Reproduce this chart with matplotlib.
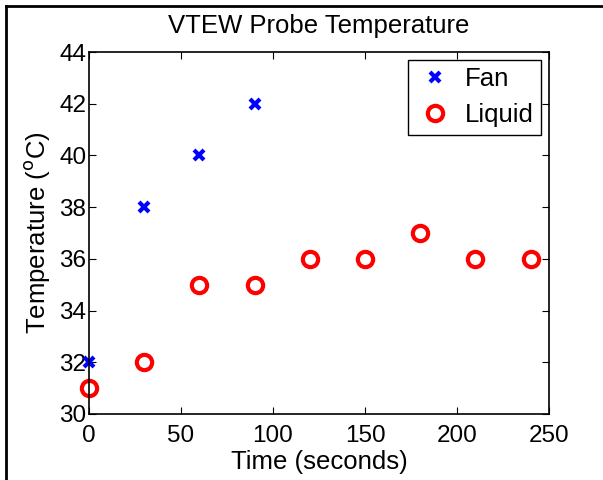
import matplotlib
matplotlib.use('Agg')
import matplotlib.pyplot as plt
from matplotlib.lines import Line2D

plt.rcParams['font.family'] = ['Liberation Sans', 'DejaVu Sans']

# Data
fan_time = [0, 30, 60, 90]
fan_temp = [32, 38, 40, 42]
liquid_time = [0, 30, 60, 90, 120, 150, 180, 210, 240]
liquid_temp = [31, 32, 35, 35, 36, 36, 37, 36, 36]

x_ticks = [0, 50, 100, 150, 200, 250]
y_ticks = [30, 32, 34, 36, 38, 40, 42, 44]

fig = plt.figure(figsize=(6.03, 4.8), dpi=100)
ax = fig.add_axes([89 / 603, 66 / 480, 460 / 603, 362 / 480])

ax.plot(fan_time, fan_temp, 'x', color='blue', markersize=7,
        markeredgewidth=3, label='Fan', clip_on=False)
ax.plot(liquid_time, liquid_temp, 'o', color='red', markerfacecolor='none',
        markersize=11, markeredgewidth=3, label='Liquid', clip_on=False)

ax.set_xlim(0, 250)
ax.set_ylim(30, 44)
ax.set_xticks(x_ticks)
ax.set_yticks(y_ticks)
ax.tick_params(direction='in', top=True, right=True, length=5,
               labelsize=17.5)
ax.tick_params(axis='x', pad=8)
ax.tick_params(axis='y', pad=2)
for s in ax.spines.values():
    s.set_linewidth(1.2)

ax.set_title('VTEW Probe Temperature', fontsize=18.5, pad=14)
ax.set_xlabel('Time (seconds)', fontsize=18.5, labelpad=2)
ax.set_ylabel('Temperature ($^{\\mathrm{o}}$C)', fontsize=18.5, labelpad=5)

leg = ax.legend(loc='upper right', fontsize=18.5, fancybox=False,
                framealpha=1, edgecolor='black', borderpad=0.3,
                handletextpad=0.4, handlelength=1.5, borderaxespad=0.3,
                labelspacing=0.45)
leg.get_frame().set_linewidth(1.0)

# screenshot frame on top and left
fig.add_artist(Line2D([6 / 603, 1], [1 - 6 / 480, 1 - 6 / 480],
                      color='black', linewidth=2))
fig.add_artist(Line2D([6 / 603, 6 / 603], [0, 1 - 6 / 480],
                      color='black', linewidth=2))

fig.savefig('out.png', dpi=100)
